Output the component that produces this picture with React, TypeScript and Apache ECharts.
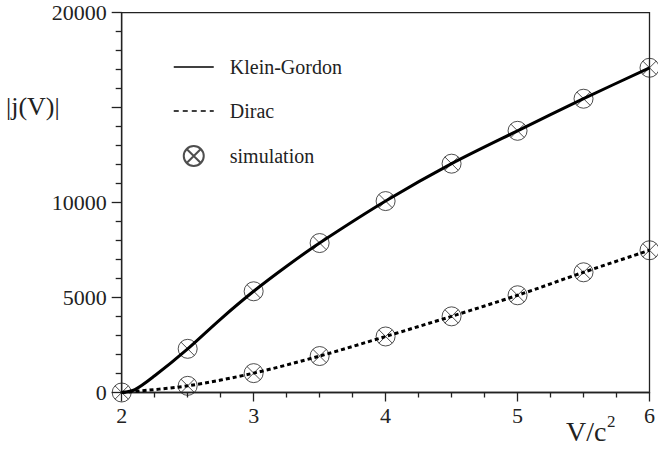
import React, { useEffect, useRef } from "react";
import * as echarts from "echarts";

// simulation points (x = V/c^2)
const simX = [2, 2.5, 3, 3.5, 4, 4.5, 5, 5.5, 6];
const kgSim = [0, 2300, 5330, 7870, 10080, 12050, 13780, 15470, 17100];
const diracSim = [0, 350, 1020, 1920, 2950, 4010, 5120, 6330, 7490];

// curves
const kgCurveX = [2, 2.1, 2.25, 2.5, 2.75, 3, 3.25, 3.5, 4, 4.5, 5, 5.5, 6];
const kgCurveY = [0, 150, 880, 2300, 3870, 5330, 6650, 7870, 10080, 12050, 13780, 15470, 17100];
const diracCurveX = [2, 2.5, 3, 3.5, 4, 4.5, 5, 5.5, 6];
const diracCurveY = [0, 350, 1020, 1920, 2950, 4010, 5120, 6330, 7490];

const yLabelsShown = [0, 5000, 10000, 20000];

const FONT = "Liberation Serif";
const MARK =
  "path://M10,0 A10,10 0 1 1 10,20 A10,10 0 1 1 10,0 Z M2.93,2.93 L17.07,17.07 M17.07,2.93 L2.93,17.07";

export default function App() {
  const ref = useRef<HTMLDivElement>(null);
  useEffect(() => {
    if (!ref.current) return;
    const chart = echarts.init(ref.current, undefined, { renderer: "svg" });
    const simData: number[][] = [];
    simX.forEach((x, i) => simData.push([x, kgSim[i]]));
    simX.forEach((x, i) => {
      if (i > 0) simData.push([x, diracSim[i]]);
    });
    chart.setOption({
      animation: false,
      backgroundColor: "#fff",
      textStyle: { fontFamily: FONT },
      grid: {
        left: 121.7,
        right: 6.3,
        top: 12.7,
        bottom: 59.5,
        show: true,
        borderColor: "#222",
        borderWidth: 1.3,
        backgroundColor: "transparent",
      },
      legend: {
        orient: "vertical",
        left: 168,
        top: 52,
        itemWidth: 40,
        itemHeight: 20,
        itemGap: 24,
        textStyle: {
          fontFamily: FONT,
          fontSize: 20,
          color: "#222",
          padding: [0, 0, 0, 11],
        },
        data: [
          {
            name: "Klein-Gordon",
            itemStyle: { opacity: 0 },
            lineStyle: { width: 1.5, type: "solid", color: "#000" },
          },
          {
            name: "Dirac",
            itemStyle: { opacity: 0 },
            lineStyle: { width: 1.5, type: [5, 4], color: "#000" },
          },
          { name: "simulation" },
        ],
      },
      xAxis: {
        type: "value",
        min: 2,
        max: 6,
        interval: 1,
        axisLine: { show: true, onZero: false, lineStyle: { color: "#222", width: 1.3 } },
        axisTick: { show: true, length: 9, lineStyle: { color: "#222", width: 1.3 } },
        minorTick: { show: true, splitNumber: 4, length: 5, lineStyle: { color: "#222", width: 1.3 } },
        splitLine: { show: false },
        axisLabel: { fontFamily: FONT, fontSize: 22, color: "#222", margin: 12 },
      },
      yAxis: {
        type: "value",
        min: 0,
        max: 20000,
        interval: 5000,
        axisLine: { show: true, lineStyle: { color: "#222", width: 1.3 } },
        axisTick: { show: true, length: 10, lineStyle: { color: "#222", width: 1.3 } },
        minorTick: { show: true, splitNumber: 5, length: 6, lineStyle: { color: "#222", width: 1.3 } },
        splitLine: { show: false },
        axisLabel: {
          fontFamily: FONT,
          fontSize: 22,
          color: "#222",
          margin: 15,
          formatter: (v: number) => (yLabelsShown.includes(v) ? String(v) : ""),
        },
      },
      graphic: [
        {
          type: "text",
          left: 6,
          top: 93,
          style: { text: "|j(V)|", fontFamily: FONT, fontSize: 26, fill: "#222" },
        },
        {
          type: "text",
          left: 566,
          top: 417,
          style: { text: "V/c", fontFamily: FONT, fontSize: 28, fill: "#222" },
        },
        {
          type: "text",
          left: 607,
          top: 413,
          style: { text: "2", fontFamily: FONT, fontSize: 17, fill: "#222" },
        },
      ],
      series: [
        {
          name: "Klein-Gordon",
          type: "line",
          data: kgCurveX.map((x, i) => [x, kgCurveY[i]]),
          smooth: 0.3,
          showSymbol: false,
          symbol: "none",
          lineStyle: { color: "#000", width: 3 },
          itemStyle: { color: "#000" },
          z: 3,
        },
        {
          name: "Dirac",
          type: "line",
          data: diracCurveX.map((x, i) => [x, diracCurveY[i]]),
          smooth: 0.3,
          showSymbol: false,
          symbol: "none",
          lineStyle: { color: "#000", width: 3, type: [4, 3] },
          itemStyle: { color: "#000" },
          z: 3,
        },
        {
          name: "simulation",
          type: "scatter",
          data: simData,
          symbol: MARK,
          symbolSize: 19,
          itemStyle: { color: "rgba(0,0,0,0)", borderColor: "#222", borderWidth: 1 },
          z: 2,
        },
      ],
    });
    return () => chart.dispose();
  }, []);
  return (
    <div
      ref={ref}
      style={{ position: "absolute", left: 0, top: 0, width: 658, height: 452, background: "#fff" }}
    />
  );
}
